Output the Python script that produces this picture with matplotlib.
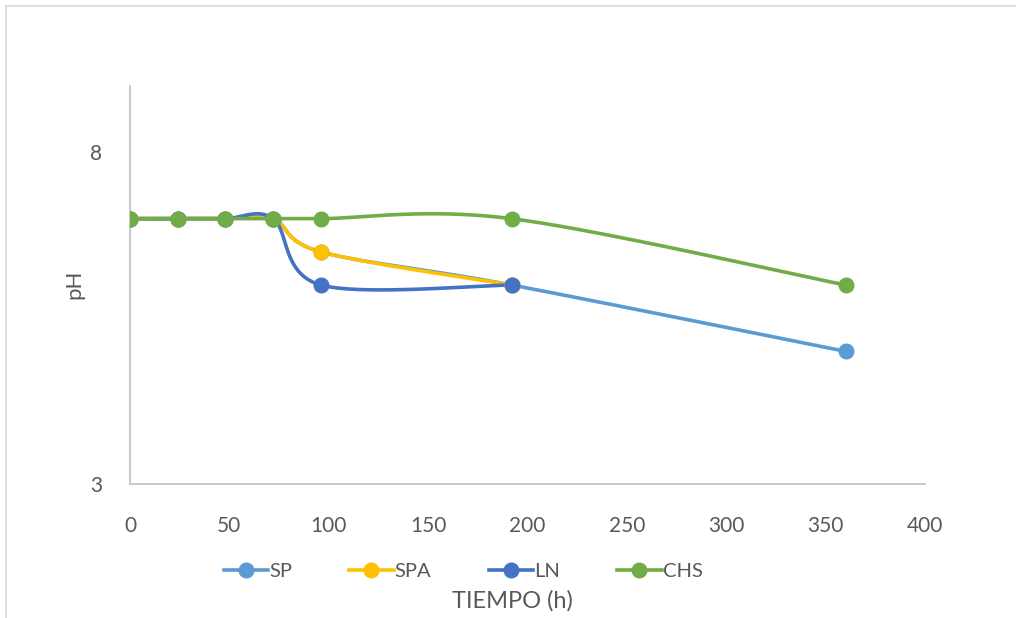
import numpy as np
import matplotlib
matplotlib.use("Agg")
import matplotlib.pyplot as plt
from matplotlib.lines import Line2D
from matplotlib.patches import Rectangle

# pH readings over time for each treatment
hours_sp = [0, 24, 48, 72, 96, 192, 360]
ph_sp = [7.0, 7.0, 7.0, 7.0, 6.5, 6.0, 5.0]

hours_spa = [0, 24, 48, 72, 96, 192]
ph_spa = [7.0, 7.0, 7.0, 7.0, 6.5, 6.0]

hours_ln = [0, 24, 48, 72, 96, 192]
ph_ln = [7.0, 7.0, 7.0, 7.0, 6.0, 6.0]

hours_chs = [0, 24, 48, 72, 96, 192, 360]
ph_chs = [7.0, 7.0, 7.0, 7.0, 7.0, 7.0, 6.0]

series_names = ["SP", "SPA", "LN", "CHS"]
series_colors = ["#5B9BD5", "#FFC000", "#4472C4", "#70AD47"]

x_ticks = [0, 50, 100, 150, 200, 250, 300, 350, 400]
y_ticks = [3, 8]

plt.rcParams["font.family"] = ["Lato", "DejaVu Sans"]


def smooth_curve(xs, ys, steps=40):
    """Cubic Bezier smoothing through the points (Catmull-Rom style tangents)."""
    p = np.column_stack([xs, ys]).astype(float)
    n = len(p)
    out = [p[0]]
    t = np.linspace(0, 1, steps)[1:, None]
    for i in range(n - 1):
        p0 = p[i - 1] if i > 0 else p[i]
        p1 = p[i]
        p2 = p[i + 1]
        p3 = p[i + 2] if i + 2 < n else p[i + 1]
        c1 = p1 + (p2 - p0) / 6.0
        c2 = p2 - (p3 - p1) / 6.0
        seg = ((1 - t) ** 3) * p1 + 3 * ((1 - t) ** 2) * t * c1 \
            + 3 * (1 - t) * t ** 2 * c2 + t ** 3 * p2
        out.extend(seg)
    out = np.array(out)
    return out[:, 0], out[:, 1]


fig = plt.figure(figsize=(10.16, 6.18), dpi=100)
fig.patch.set_facecolor("white")
fig.patches.append(Rectangle((6 / 1016, -0.1), 1.2, 1 - 6 / 618 + 0.1,
                             transform=fig.transFigure, fill=False,
                             edgecolor="#D9D9D9", linewidth=1.2))

ax = fig.add_axes([130 / 1016, 1 - 484 / 618, 795 / 1016, 398 / 618])

all_series = [(hours_sp, ph_sp), (hours_spa, ph_spa),
              (hours_ln, ph_ln), (hours_chs, ph_chs)]
for (xs, ys), name, col in zip(all_series, series_names, series_colors):
    sx, sy = smooth_curve(xs, ys)
    ax.plot(sx, sy, color=col, linewidth=2.6, solid_capstyle="round", zorder=2)
    ax.plot(xs, ys, linestyle="none", marker="o", markersize=10.5,
            color=col, markeredgecolor=col, zorder=3)

ax.set_xlim(0, 400)
ax.set_ylim(3, 9)
ax.set_xticks(x_ticks)
ax.set_yticks(y_ticks)
ax.tick_params(axis="both", length=0, labelsize=15, colors="#595959")
ax.tick_params(axis="x", pad=23)
ax.tick_params(axis="y", pad=20)
for side in ["top", "right"]:
    ax.spines[side].set_visible(False)
for side in ["left", "bottom"]:
    ax.spines[side].set_color("#BFBFBF")
    ax.spines[side].set_linewidth(1.2)

fig.text(74 / 1016, 1 - 284 / 618, "pH", rotation=90, ha="center",
         va="center", fontsize=16, color="#595959")

handles = [Line2D([], [], color=c, linewidth=2.6, marker="o", markersize=10.5)
           for c in series_colors]
fig.legend(handles, series_names, loc="center", ncol=4,
           bbox_to_anchor=(463 / 1016, 1 - 571 / 618), frameon=False,
           fontsize=14.5, labelcolor="#595959", handlelength=2.2,
           handletextpad=0.05, columnspacing=2.85)

fig.text(512 / 1016, 1 - 601 / 618, "TIEMPO (h)", ha="center", va="center",
         fontsize=17, color="#595959")

fig.savefig("out.png", dpi=100)
